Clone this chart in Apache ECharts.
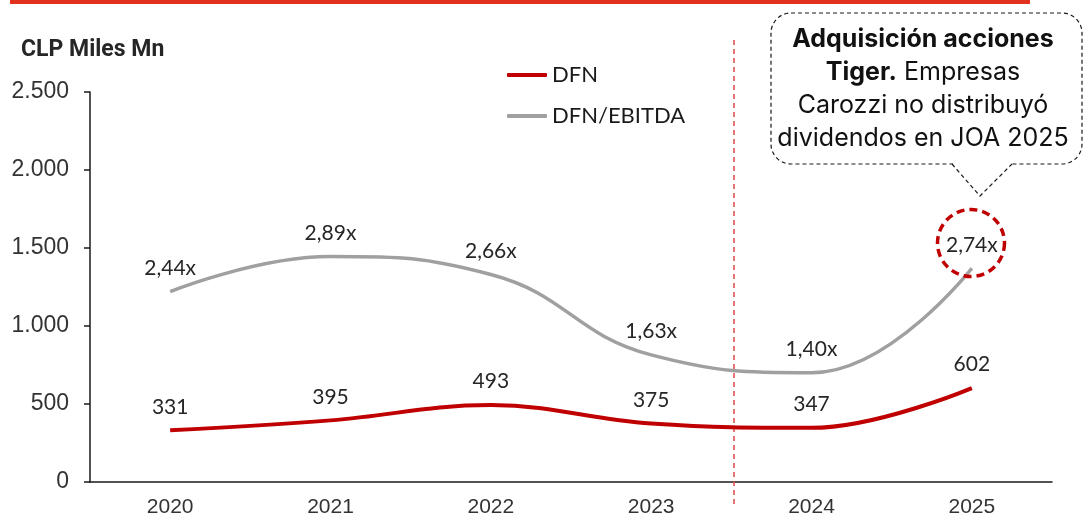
<!DOCTYPE html>
<html>
<head>
<meta charset="utf-8">
<script src="https://cdn.jsdelivr.net/npm/echarts@6/dist/echarts.min.js"></script>
<style>
  html, body { margin: 0; padding: 0; background: #fff; }
  #chart { width: 1084px; height: 518px; }
</style>
</head>
<body>
<div id="chart"></div>
<script>
// data
const years = ['2020', '2021', '2022', '2023', '2024', '2025']
const dfn = [331, 395, 493, 375, 347, 602]
const dfnEbitda = [2.44, 2.89, 2.66, 1.63, 1.40, 2.74]
const yTicks = [0, 500, 1000, 1500, 2000, 2500]

const labelFont = 'Lato, "Open Sans", sans-serif'
const tickFont = '"Liberation Sans", Arial, sans-serif'

const fmtThousands = (v) => String(v).replace(/\B(?=(\d{3})+(?!\d))/g, '.')
const fmtRatio = (v) => v.toFixed(2).replace('.', ',') + 'x'

const chart = echarts.init(document.getElementById('chart'))

// callout bubble
const bx0 = 771, by0 = 13, bx1 = 1082, by1 = 164
const tailL = 952, tailR = 1012, tipX = 980, tipY = 196

const option = {
  animation: false,
  title: {
    text: 'CLP Miles Mn',
    left: 16,
    top: 34,
    textStyle: { fontFamily: 'Roboto, sans-serif', fontWeight: 'bold', fontSize: 23, color: '#262626' }
  },
  legend: {
    orient: 'vertical',
    left: 502,
    top: 59,
    icon: 'roundRect',
    itemWidth: 40,
    itemHeight: 4,
    itemGap: 19,
    data: ['DFN', 'DFN/EBITDA'],
    textStyle: { fontFamily: labelFont, fontSize: 22, color: '#1a1a1a' }
  },
  grid: { left: 90, right: 32, top: 92, bottom: 35 },
  xAxis: {
    type: 'category',
    data: years,
    axisLine: { lineStyle: { color: '#1a1a1a', width: 1.5 } },
    axisTick: { show: false },
    axisLabel: { fontFamily: tickFont, fontSize: 21, color: '#333', margin: 15 }
  },
  yAxis: [
    {
      type: 'value',
      min: 0,
      max: 2500,
      interval: 500,
      splitLine: { show: false },
      axisLine: { show: true, lineStyle: { color: '#1a1a1a', width: 1.5 } },
      axisTick: { show: true, length: 6, lineStyle: { color: '#1a1a1a', width: 1.5 } },
      axisLabel: {
        fontFamily: tickFont, fontSize: 23, color: '#333', margin: 21,
        formatter: (v) => yTicks.includes(v) ? fmtThousands(v) : ''
      }
    },
    {
      // ratio axis: 1x = 500 on the left axis
      type: 'value',
      min: 0,
      max: 5,
      show: false
    }
  ],
  series: [
    {
      name: 'DFN',
      type: 'line',
      data: dfn,
      smooth: 0.4,
      symbol: 'circle',
      symbolSize: 0,
      lineStyle: { color: '#c00000', width: 4 },
      itemStyle: { color: '#c00000' },
      label: {
        show: true,
        position: 'top',
        distance: 13,
        fontFamily: labelFont,
        fontSize: 21,
        color: '#262626',
        formatter: (p) => String(p.value)
      },
      z: 3
    },
    {
      name: 'DFN/EBITDA',
      type: 'line',
      yAxisIndex: 1,
      data: dfnEbitda,
      smooth: 0.45,
      symbol: 'circle',
      symbolSize: 0,
      lineStyle: { color: '#a0a0a0', width: 3.5 },
      itemStyle: { color: '#a0a0a0' },
      label: {
        show: true,
        position: 'top',
        distance: 13,
        fontFamily: labelFont,
        fontSize: 21,
        color: '#262626',
        backgroundColor: '#fff',
        padding: [0, 2],
        formatter: (p) => fmtRatio(p.value)
      },
      z: 2
    }
  ],
  graphic: [
    {
      type: 'rect',
      shape: { x: 10, y: 0, width: 1020, height: 4 },
      style: { fill: '#e0301e' },
      silent: true
    },
    {
      type: 'line',
      shape: { x1: 734, y1: 40, x2: 734, y2: 508 },
      style: { stroke: '#e04848', lineWidth: 1.5, lineDash: [5, 4] },
      silent: true,
      z: 1
    },
    {
      type: 'rect',
      shape: { x: bx0, y: by0, width: bx1 - bx0, height: by1 - by0, r: 20 },
      style: { fill: '#fff', stroke: '#1a1a1a', lineWidth: 1.2, lineDash: [4, 3] },
      silent: true,
      z: 10
    },
    {
      // hide the box border where the tail joins
      type: 'polygon',
      shape: { points: [[tailL + 1, by1 - 2], [tailR - 1, by1 - 2], [tailR - 1, by1 + 2], [tailL + 1, by1 + 2]] },
      style: { fill: '#fff' },
      silent: true,
      z: 11
    },
    {
      type: 'polyline',
      shape: { points: [[tailL, by1], [tipX, tipY], [tailR, by1]] },
      style: { fill: null, stroke: '#1a1a1a', lineWidth: 1.2, lineDash: [4, 3] },
      silent: true,
      z: 11
    },
    {
      type: 'text',
      x: 923,
      y: 23,
      style: {
        text: '{b|Adquisición acciones}\n{b|Tiger.} Empresas\nCarozzi no distribuyó\ndividendos en JOA 2025',
        align: 'center',
        verticalAlign: 'top',
        fontFamily: 'Inter, Lato, sans-serif',
        fontSize: 25,
        lineHeight: 33,
        fill: '#111',
        rich: {
          b: { fontFamily: 'Inter, Lato, sans-serif', fontWeight: 'bold', fontSize: 25, lineHeight: 33, fill: '#111' }
        }
      },
      silent: true,
      z: 12
    },
    {
      type: 'circle',
      shape: { cx: 971, cy: 243, r: 33.5 },
      style: { fill: null, stroke: '#c00000', lineWidth: 3.5, lineDash: [8, 5] },
      silent: true,
      z: 12
    }
  ]
}

chart.setOption(option)
</script>
</body>
</html>
